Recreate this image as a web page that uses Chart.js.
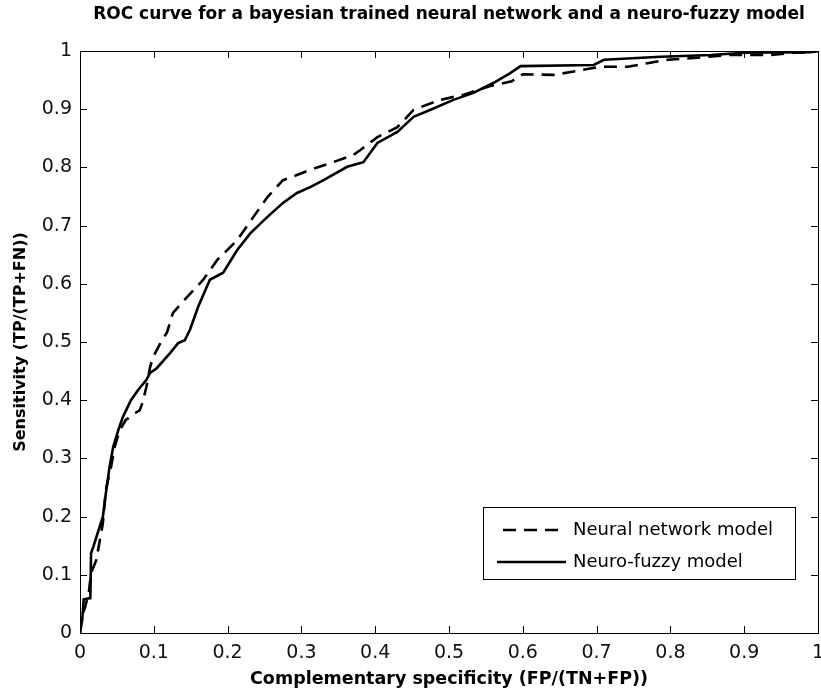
<!DOCTYPE html>
<html>
<head>
<meta charset="utf-8">
<script src="https://cdn.jsdelivr.net/npm/chart.js@4.4.0/dist/chart.umd.min.js"></script>
<style>
  html, body { margin: 0; padding: 0; background: #fff; }
  #wrap { width: 821px; height: 688px; }
</style>
</head>
<body>
<div id="wrap"><canvas id="rocChart" width="821" height="688"></canvas></div>
<script>
// Neural network model (dashed)
var nnX = [0, 0.001, 0.007, 0.012, 0.015, 0.022, 0.027, 0.031, 0.035, 0.042, 0.047, 0.054, 0.062, 0.075, 0.081, 0.085, 0.090, 0.095, 0.099, 0.109, 0.118, 0.126, 0.145, 0.167, 0.186, 0.213, 0.235, 0.254, 0.275, 0.290, 0.312, 0.343, 0.370, 0.380, 0.403, 0.430, 0.452, 0.488, 0.520, 0.556, 0.585, 0.600, 0.642, 0.665, 0.706, 0.742, 0.769, 0.796, 0.832, 0.878, 0.936, 0.967, 0.990, 1.0]
var nnY = [0, 0.022, 0.045, 0.070, 0.103, 0.125, 0.160, 0.189, 0.246, 0.285, 0.320, 0.349, 0.366, 0.378, 0.383, 0.397, 0.423, 0.457, 0.474, 0.498, 0.517, 0.550, 0.577, 0.607, 0.641, 0.675, 0.715, 0.749, 0.778, 0.785, 0.796, 0.809, 0.821, 0.830, 0.852, 0.869, 0.899, 0.916, 0.925, 0.940, 0.948, 0.960, 0.959, 0.964, 0.973, 0.973, 0.979, 0.985, 0.988, 0.993, 0.993, 0.997, 0.998, 1.0]

// Neuro-fuzzy model (solid)
var nfX = [0, 0.003, 0.005, 0.014, 0.015, 0.018, 0.024, 0.031, 0.035, 0.040, 0.045, 0.052, 0.058, 0.069, 0.079, 0.090, 0.095, 0.104, 0.122, 0.133, 0.142, 0.149, 0.160, 0.176, 0.194, 0.213, 0.231, 0.254, 0.275, 0.294, 0.312, 0.330, 0.362, 0.384, 0.403, 0.430, 0.452, 0.475, 0.506, 0.533, 0.560, 0.583, 0.597, 0.696, 0.710, 0.787, 0.855, 0.900, 0.990, 1.0]
var nfY = [0, 0.022, 0.058, 0.060, 0.137, 0.148, 0.172, 0.200, 0.240, 0.285, 0.320, 0.349, 0.371, 0.400, 0.418, 0.435, 0.447, 0.455, 0.481, 0.498, 0.503, 0.521, 0.560, 0.607, 0.619, 0.658, 0.687, 0.715, 0.739, 0.756, 0.766, 0.778, 0.801, 0.809, 0.842, 0.861, 0.887, 0.899, 0.916, 0.928, 0.945, 0.962, 0.974, 0.976, 0.985, 0.990, 0.993, 0.997, 0.998, 1.0]

var seriesLabels = ['Neural network model', 'Neuro-fuzzy model']
var tickValues = [0, 0.1, 0.2, 0.3, 0.4, 0.5, 0.6, 0.7, 0.8, 0.9, 1]

function toPoints(xs, ys) {
  return xs.map(function (x, i) { return { x: x, y: ys[i] } })
}

function fmt(v) {
  return String(Math.round(v * 10) / 10)
}

// box round the plot with inward tick marks on all four sides
var boxPlugin = {
  id: 'box',
  afterDraw: function (chart) {
    var ctx = chart.ctx
    var a = chart.chartArea
    var xs = chart.scales.x
    var ys = chart.scales.y
    var len = 7
    ctx.save()
    ctx.strokeStyle = '#000'
    ctx.lineWidth = 1
    ctx.strokeRect(a.left + 0.5, a.top + 0.5, a.right - a.left, a.bottom - a.top)
    ctx.beginPath()
    tickValues.forEach(function (v) {
      var px = Math.round(xs.getPixelForValue(v)) + 0.5
      ctx.moveTo(px, a.bottom); ctx.lineTo(px, a.bottom - len)
      ctx.moveTo(px, a.top); ctx.lineTo(px, a.top + len)
      var py = Math.round(ys.getPixelForValue(v)) + 0.5
      ctx.moveTo(a.left, py); ctx.lineTo(a.left + len, py)
      ctx.moveTo(a.right, py); ctx.lineTo(a.right - len, py)
    })
    ctx.stroke()
    ctx.restore()
  }
}

// legend box inside the plot, bottom right
var legendPlugin = {
  id: 'boxLegend',
  afterDraw: function (chart) {
    var ctx = chart.ctx
    var a = chart.chartArea
    var w = 312, h = 72
    var left = a.right - 23 - w
    var top = a.bottom - 54 - h
    ctx.save()
    ctx.fillStyle = '#fff'
    ctx.fillRect(left, top, w, h)
    ctx.strokeStyle = '#000'
    ctx.lineWidth = 1
    ctx.strokeRect(left + 0.5, top + 0.5, w, h)
    ctx.font = '18px "DejaVu Sans"'
    ctx.textBaseline = 'middle'
    ctx.fillStyle = '#000'
    chart.data.datasets.forEach(function (ds, i) {
      var y = top + 23 + i * 32
      ctx.beginPath()
      ctx.lineWidth = ds.borderWidth
      ctx.setLineDash(ds.borderDash || [])
      ctx.moveTo(left + (ds.borderDash ? 20 : 14), y)
      ctx.lineTo(left + 83, y)
      ctx.stroke()
      ctx.setLineDash([])
      ctx.fillText(ds.label, left + 90, y)
    })
    ctx.restore()
  }
}

var ctx = document.getElementById('rocChart').getContext('2d')
var chart = new Chart(ctx, {
  type: 'scatter',
  data: {
    datasets: [
      {
        label: seriesLabels[0],
        data: toPoints(nnX, nnY),
        showLine: true,
        borderColor: '#000',
        borderWidth: 2.6,
        borderDash: [13, 8],
        pointRadius: 0,
        tension: 0,
      },
      {
        label: seriesLabels[1],
        data: toPoints(nfX, nfY),
        showLine: true,
        borderColor: '#000',
        borderWidth: 2.6,
        pointRadius: 0,
        tension: 0,
      },
    ],
  },
  options: {
    responsive: false,
    animation: false,
    layout: { padding: { left: 0, right: 3, top: 0, bottom: 0 } },
    plugins: {
      legend: { display: false },
      tooltip: { enabled: false },
      title: {
        display: true,
        fullSize: false,
        text: 'ROC curve for a bayesian trained neural network and a neuro-fuzzy model',
        color: '#000',
        font: { family: 'DejaVu Sans', size: 17, weight: 'bold', lineHeight: 1.2 },
        padding: { top: 4, bottom: 26.6 },
      },
    },
    scales: {
      x: {
        type: 'linear',
        min: 0,
        max: 1,
        afterBuildTicks: function (s) { s.ticks = tickValues.map(function (v) { return { value: v } }) },
        afterFit: function (s) { s.height = 55; s.paddingLeft = 0; s.paddingRight = 0 },
        grid: { display: false, drawTicks: false },
        border: { display: false },
        ticks: {
          color: '#111',
          padding: 9,
          maxRotation: 0,
          autoSkip: false,
          font: { family: 'DejaVu Sans', size: 19 },
          callback: fmt,
        },
        title: {
          display: true,
          text: 'Complementary specificity (FP/(TN+FP))',
          color: '#000',
          font: { family: 'DejaVu Sans', size: 17.5, weight: 'bold', lineHeight: 1 },
          padding: { top: 0, bottom: 0 },
        },
      },
      y: {
        type: 'linear',
        min: 0,
        max: 1,
        afterBuildTicks: function (s) { s.ticks = tickValues.map(function (v) { return { value: v } }) },
        afterFit: function (s) { s.width = 80; s.paddingTop = 0; s.paddingBottom = 0 },
        grid: { display: false, drawTicks: false },
        border: { display: false },
        ticks: {
          color: '#111',
          padding: 8,
          autoSkip: false,
          font: { family: 'DejaVu Sans', size: 19 },
          callback: fmt,
        },
        title: {
          display: true,
          text: 'Sensitivity (TP/(TP+FN))',
          color: '#000',
          font: { family: 'DejaVu Sans', size: 16, weight: 'bold', lineHeight: 1.2 },
          padding: { top: 11, bottom: 0 },
        },
      },
    },
  },
  plugins: [boxPlugin, legendPlugin],
})
</script>
</body>
</html>
